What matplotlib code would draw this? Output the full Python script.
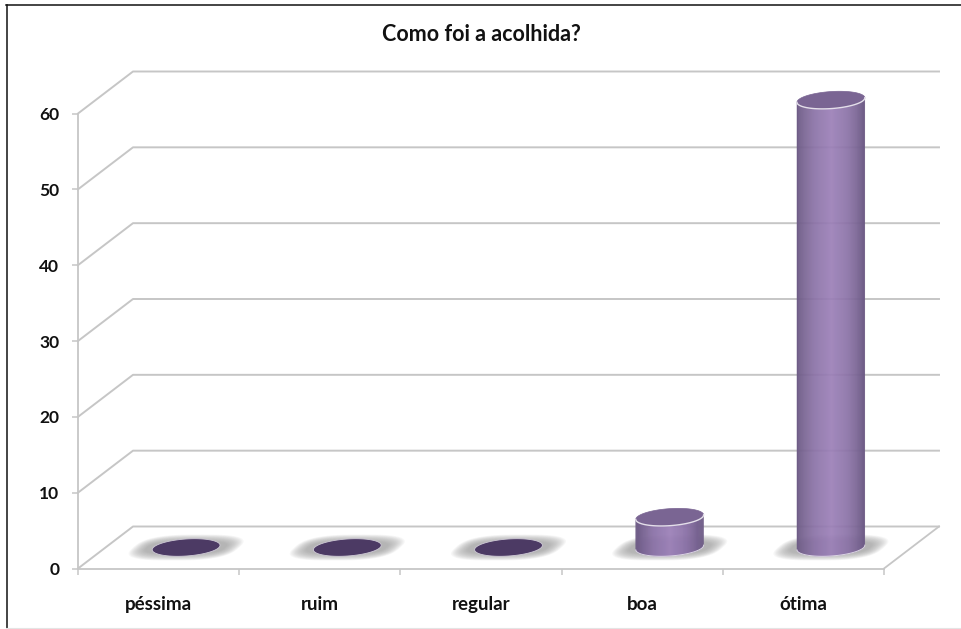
import matplotlib
matplotlib.use('Agg')
import matplotlib.pyplot as plt
from matplotlib.lines import Line2D
from matplotlib.patches import Polygon
from matplotlib.transforms import IdentityTransform
import numpy as np

categorias = ['péssima', 'ruim', 'regular', 'boa', 'ótima']
valores = [0, 0, 0, 4, 59]
yticks = [0, 10, 20, 30, 40, 50, 60]

W, H = 961, 629
DX, DY = 55, 42  # profundidade do "3D", em pixels
GRID = '#c6c6c6'
FONTE = ['Lato', 'DejaVu Sans']

fig = plt.figure(figsize=(W / 100, H / 100), dpi=100, facecolor='white')
ax = fig.add_axes([78 / W, (H - 568.5) / H, 806 / W, 455 / H])
ax.set_xlim(0, len(categorias))
ax.set_ylim(0, 60)
ax.patch.set_visible(False)
for lado in ['top', 'right']:
  ax.spines[lado].set_visible(False)
for lado in ['left', 'bottom']:
  ax.spines[lado].set_color(GRID)
  ax.spines[lado].set_linewidth(1.3)

ax.set_yticks(yticks)
ax.set_xticks(range(len(categorias) + 1))
ax.set_xticklabels([])
ax.tick_params(axis='both', length=4.5, width=1.1, color=GRID)
ax.tick_params(axis='y', pad=9)
for t in ax.get_yticklabels():
  t.set_fontfamily(FONTE)
  t.set_fontweight('bold')
  t.set_fontsize(12.5)
  t.set_color('#111111')

# etiquetas no centro de cada categoria
ax.set_xticks(np.arange(len(categorias)) + 0.5, minor=True)
ax.set_xticklabels(categorias, minor=True, fontfamily=FONTE, fontweight='bold',
                   fontsize=13.5, color='#111111')
ax.tick_params(axis='x', which='minor', length=0, pad=20)

ax.set_title('Como foi a acolhida?', fontfamily=FONTE, fontweight='bold',
             fontsize=15.5, color='#111111', x=0.5, y=1.14)

# paredes: grades a partir do plano da frente
x_fim = len(categorias)
for v in yticks:
  p0 = ax.transData.transform((0, v))
  p1 = ax.transData.transform((x_fim, v))
  pts = np.array([p0, p0 + [DX, DY], p1 + [DX, DY]])
  ax.add_line(Line2D(pts[:, 0], pts[:, 1], color=GRID, lw=1.4,
                     transform=IdentityTransform(), clip_on=False, zorder=1))
# lateral direita do piso
p1 = ax.transData.transform((x_fim, 0))
ax.add_line(Line2D([p1[0], p1[0] + DX], [p1[1], p1[1] + DY], color=GRID, lw=1.3,
                   transform=IdentityTransform(), clip_on=False, zorder=1))

A, B = 34, 8.5
TILT = np.radians(4)


def elipse(c, t):
  x = A * np.cos(t) * np.cos(TILT) - B * np.sin(t) * np.sin(TILT)
  y = A * np.cos(t) * np.sin(TILT) + B * np.sin(t) * np.cos(TILT)
  return np.column_stack([c[0] + x, c[1] + y])


def px_patch(pts, **kw):
  p = Polygon(pts, closed=True, transform=IdentityTransform(), clip_on=False, **kw)
  ax.add_patch(p)
  return p


def sombra(c):
  # mancha cinza inclinada no piso, feita de camadas
  t = np.linspace(0, 2 * np.pi, 90)
  n = 14
  for k in range(n):
    f = 1 - k / n
    rx = 38 + 15 * f
    ry = 6 + 7 * f
    sx = np.sign(np.cos(t)) * np.abs(np.cos(t)) ** 0.7 * rx
    sy = np.sign(np.sin(t)) * np.abs(np.sin(t)) ** 0.7 * ry
    pts = np.column_stack([c[0] + sx + sy * 1.1, c[1] + sy])
    px_patch(pts, fc='#969696', ec='none', alpha=0.075, zorder=2)


def lateral(base, topo):
  esq = np.array([0.0, 0.25, 0.5, 0.75, 1.0])
  cor0 = np.array([[0x6d, 0x5b, 0x85], [0x8a, 0x71, 0xa6], [0x9b, 0x7f, 0xb8],
                   [0x8a, 0x71, 0xa6], [0x6d, 0x5b, 0x85]]) / 255
  n = 68
  # fatias com largura uniforme em x
  ts = np.sort(2 * np.pi - np.arccos(np.linspace(-1, 1, n + 1)))
  for i in range(n):
    u = (i + 0.5) / n
    cor = [np.interp(u, esq, cor0[:, j]) for j in range(3)]
    par = ts[i:i + 2]
    baixo = elipse(base, par)
    alto = elipse(topo, par)
    px_patch(np.vstack([baixo, alto[::-1]]), fc=cor, ec=cor, lw=0.3, zorder=3)


t_full = np.linspace(0, 2 * np.pi, 120)
t_baixo = np.linspace(np.pi, 2 * np.pi, 60)
for i, v in enumerate(valores):
  base = ax.transData.transform((i + 0.5, 0)) + [DX / 2, DY / 2]
  topo = ax.transData.transform((i + 0.5, v)) + [DX / 2, DY / 2]
  sombra(base)
  if v > 0:
    lateral(base, topo)
    b = elipse(base, t_baixo)
    ax.add_line(Line2D(b[:, 0], b[:, 1], color='#dcd6e4', lw=0.7,
                       transform=IdentityTransform(), clip_on=False, zorder=4))
    px_patch(elipse(topo, t_full), fc='#7a6593', ec='#7a6593', lw=0.5, zorder=4)
    a = elipse(topo, t_baixo)
    ax.add_line(Line2D(a[:, 0], a[:, 1], color='#e4dfea', lw=1.0,
                       transform=IdentityTransform(), clip_on=False, zorder=5))
  else:
    px_patch(elipse(topo, t_full), fc='#4c3a64', ec='#cfcad6', lw=0.6, zorder=4)

# moldura do quadro
fig.add_artist(Line2D([6.5 / W, 6.5 / W], [0, (H - 5) / H], color='#111111', lw=1.1))
fig.add_artist(Line2D([6 / W, 1], [(H - 5) / H, (H - 5) / H], color='#111111', lw=1.1))
fig.add_artist(Line2D([6 / W, 1], [1.5 / H, 1.5 / H], color='#e4e4e4', lw=0.8))

fig.savefig('out.png', dpi=100, facecolor='white')
